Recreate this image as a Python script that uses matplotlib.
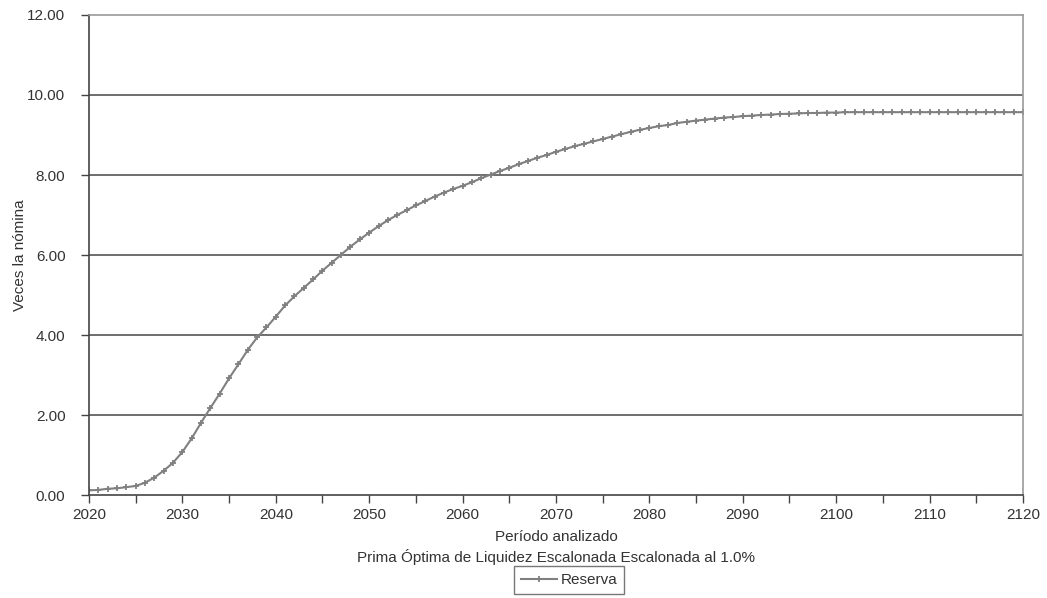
import numpy as np
import matplotlib.pyplot as plt

# data
years = list(range(2020, 2121))
reserva = [0.12, 0.13, 0.16, 0.17, 0.20, 0.23, 0.31, 0.44, 0.61, 0.81,
           1.08, 1.42, 1.81, 2.18, 2.54, 2.92, 3.27, 3.63, 3.94, 4.19,
           4.46, 4.74, 4.97, 5.18, 5.39, 5.61, 5.81, 6.01, 6.21, 6.39,
           6.56, 6.72, 6.87, 7.00, 7.12, 7.24, 7.35, 7.46, 7.56, 7.65,
           7.73, 7.82, 7.92, 8.01, 8.10, 8.18, 8.27, 8.35, 8.43, 8.50,
           8.58, 8.65, 8.72, 8.78, 8.84, 8.90, 8.96, 9.02, 9.08, 9.13,
           9.175, 9.22, 9.25, 9.30, 9.33, 9.36, 9.385, 9.41, 9.435, 9.45,
           9.47, 9.485, 9.50, 9.51, 9.525, 9.53, 9.54, 9.55, 9.55, 9.56,
           9.56, 9.57, 9.57, 9.57, 9.57, 9.57, 9.57, 9.57, 9.57, 9.57,
           9.57, 9.57, 9.57, 9.57, 9.57, 9.57, 9.57, 9.57, 9.57, 9.57,
           9.57]
yticks = [0, 2, 4, 6, 8, 10, 12]

plt.rcParams['font.family'] = ['Liberation Sans', 'DejaVu Sans']

fig = plt.figure(figsize=(10.47, 5.98), dpi=100)
ax = fig.add_axes([0.085, 0.172, 0.892, 0.803])

ax.plot(years, reserva, color='#808080', lw=1.5, marker='+', ms=4, mew=1.3, label='Reserva')

ax.set_xlim(2020, 2120)
ax.set_ylim(0, 12)
ax.set_yticks(yticks)
ax.set_yticklabels(['%.2f' % v for v in yticks])
xt = list(range(2020, 2121, 5))
ax.set_xticks(xt)
ax.set_xticklabels([str(t) if t % 10 == 0 else '' for t in xt])

for v in yticks[1:-1]:
    ax.axhline(v, color='#555555', lw=1.2, zorder=0)

ax.spines['left'].set_color('#444444')
ax.spines['bottom'].set_color('#444444')
ax.spines['top'].set_color('#999999')
ax.spines['right'].set_color('#999999')
for s in ax.spines.values():
    s.set_linewidth(1.2)
ax.tick_params(direction='out', length=6, width=1, color='#444444', labelsize=11, labelcolor='#333333')
ax.tick_params(axis='y', pad=11)
ax.tick_params(axis='x', pad=3)

ax.set_ylabel('Veces la nómina', fontsize=11, color='#333333', labelpad=0)
ax.set_xlabel('Período analizado\nPrima Óptima de Liquidez Escalonada Escalonada al 1.0%',
              fontsize=11, color='#333333', labelpad=6, linespacing=1.35)

leg = ax.legend(loc='center', bbox_to_anchor=(0.514, -0.177), frameon=True, fancybox=False,
                fontsize=11, handlelength=2.4, handletextpad=0.2, borderpad=0.45,
                borderaxespad=0)
leg.get_frame().set_edgecolor('#555555')
leg.get_frame().set_linewidth(1)
for t in leg.get_texts():
    t.set_color('#333333')

fig.savefig('out.png', dpi=100)
